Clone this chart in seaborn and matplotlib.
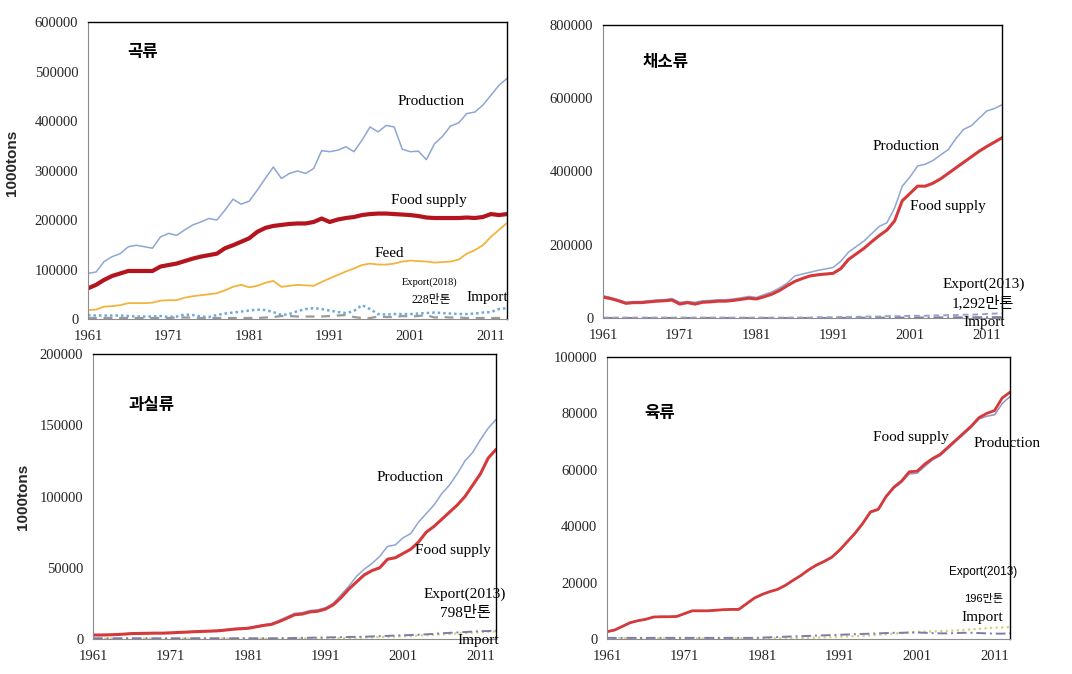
import matplotlib
matplotlib.use("Agg")
import matplotlib.pyplot as plt
import seaborn as sns
import numpy as np
import pandas as pd

sns.set_style("white")
plt.rcParams['font.family'] = ['Liberation Serif', 'Noto Sans CJK KR', 'DejaVu Sans']

years = list(range(1961, 2014))
xticks = [1961, 1971, 1981, 1991, 2001, 2011]

# ---- Cereals (1000 tons) ----
cereal_production = [92, 95, 116, 126, 132, 146, 149, 146, 143, 166, 173, 169, 180, 190, 196, 203, 200,
                     220, 242, 232, 238, 260, 284, 307, 284, 294, 299, 294, 304, 340, 338, 341, 348, 338,
                     361, 388, 378, 391, 388, 343, 338, 339, 322, 354, 369, 390, 396, 415, 418, 432, 452,
                     472, 486]
cereal_food = [62, 69, 79, 87, 92, 97, 97, 97, 97, 106, 109, 112, 117, 122, 126, 129, 132, 143, 149, 156,
               163, 176, 184, 188, 190, 192, 193, 193, 196, 203, 196, 201, 204, 206, 210, 212, 213, 213,
               212, 211, 210, 208, 205, 204, 204, 204, 204, 205, 204, 206, 212, 210, 212]
cereal_feed = [18, 19, 25, 26, 28, 32, 32, 32, 33, 37, 38, 38, 43, 46, 48, 50, 52, 58, 65, 69, 64, 67, 73,
               77, 65, 67, 69, 68, 67, 75, 82, 89, 96, 102, 109, 112, 110, 110, 112, 116, 118, 117, 116,
               114, 115, 116, 120, 132, 139, 149, 166, 180, 194]
cereal_import = [8, 7, 7, 7, 7, 6, 5, 5, 5, 6, 4, 5, 9, 8, 5, 4, 8, 11, 13, 15, 17, 19, 18, 14, 8, 10, 16,
                 20, 22, 20, 17, 14, 12, 16, 28, 20, 10, 9, 10, 10, 10, 11, 12, 13, 12, 11, 10, 10, 11, 13,
                 14, 20, 22]
cereal_export = [2, 2, 2, 2, 2, 2, 2, 2, 2, 2, 2, 3, 3, 3, 2, 2, 2, 2, 2, 2, 2, 2, 3, 4, 6, 6, 5, 5, 5, 5,
                 6, 7, 8, 4, 2, 2, 5, 4, 4, 6, 5, 6, 8, 3, 4, 3, 3, 2, 2, 2, 2, 2, 2]

# ---- Vegetables ----
veg_production = [61, 56, 50, 43, 45, 45, 47, 49, 50, 53, 43, 45, 43, 47, 48, 50, 50, 52, 55, 59, 56, 64,
                  71, 82, 95, 115, 120, 125, 130, 134, 138, 155, 180, 195, 210, 230, 250, 260, 300, 360,
                  385, 415, 420, 430, 445, 460, 490, 515, 525, 545, 565, 572, 582]
veg_food = [57, 53, 47, 40, 42, 42, 44, 46, 47, 49, 38, 42, 38, 43, 44, 46, 46, 48, 51, 54, 52, 58, 65,
            75, 88, 100, 108, 115, 118, 120, 122, 135, 160, 175, 190, 208, 225, 240, 265, 320, 340, 360,
            360, 368, 380, 395, 410, 425, 440, 455, 468, 480, 492]
veg_export = [1, 1, 1, 1, 1, 1, 1, 1, 1, 1, 1, 1, 1, 1, 1, 1, 1, 1, 1, 1, 1, 1, 1, 1, 1, 1, 1, 1, 2, 2,
              2, 3, 3, 3, 4, 4, 4, 5, 5, 5, 6, 6, 6, 7, 7, 8, 8, 9, 9, 10, 11, 12, 13]
veg_import = [0.2] * 30 + [0.3, 0.4, 0.5, 0.6, 0.7, 0.8, 0.9, 1.0, 1.0, 1.1, 1.2, 1.3, 1.4, 1.5, 1.6,
                           1.7, 1.8, 1.9, 2.0, 2.1, 2.2, 2.3, 2.4]

# ---- Fruits ----
fruit_production = [3.0, 3.0, 3.1, 3.3, 3.6, 4.0, 4.1, 4.2, 4.3, 4.3, 4.5, 4.8, 5.0, 5.3, 5.5, 5.7, 6.0,
                    6.5, 7.2, 7.6, 8.0, 9.0, 10.0, 10.8, 13.0, 15.5, 18.0, 18.5, 20.0, 20.5, 22.0, 25.0,
                    31.0, 37.0, 44.0, 49.0, 53.0, 58.0, 65.0, 66.0, 71.0, 74.0, 82.0, 88.0, 94.0, 102.0,
                    108.0, 116.0, 125.0, 131.0, 140.0, 148.0, 154.0]
fruit_food = [2.8, 2.8, 2.9, 3.1, 3.4, 3.8, 3.9, 4.0, 4.1, 4.1, 4.3, 4.6, 4.8, 5.1, 5.3, 5.5, 5.7, 6.2,
              6.8, 7.2, 7.5, 8.5, 9.5, 10.2, 12.2, 14.5, 17.0, 17.5, 19.0, 19.5, 21.0, 24.0, 29.0, 35.0,
              40.0, 45.0, 48.0, 50.0, 56.0, 57.0, 60.0, 63.0, 68.0, 75.0, 79.0, 84.0, 89.0, 94.0, 100.0,
              108.0, 116.0, 127.0, 133.0]
fruit_export = [0.5] * 25 + [0.6, 0.7, 0.8, 0.9, 1.0, 1.1, 1.2, 1.3, 1.4, 1.5, 1.6, 1.8, 2.0, 2.2, 2.4,
                             2.6, 2.8, 3.0, 3.3, 3.6, 4.0, 4.3, 4.6, 4.9, 5.2, 5.5, 5.6, 5.8]
fruit_import = [0.3] * 30 + [0.4, 0.5, 0.6, 0.7, 0.9, 1.0, 1.2, 1.3, 1.5, 1.7, 1.9, 2.1, 2.4, 2.7, 3.0,
                             3.3, 3.6, 3.9, 4.2, 4.5, 4.8, 5.1, 5.4]

# ---- Meat ----
meat_food = [2.6, 3.2, 4.5, 5.8, 6.5, 7.0, 7.8, 7.9, 7.9, 8.0, 9.0, 10.0, 10.0, 10.0, 10.2, 10.4, 10.5,
             10.5, 12.5, 14.5, 15.8, 16.8, 17.6, 19.0, 20.8, 22.5, 24.5, 26.2, 27.5, 29.0, 31.5, 34.5,
             37.5, 41.0, 45.1, 46.0, 50.5, 53.8, 56.0, 59.3, 59.5, 62.0, 64.0, 65.5, 68.0, 70.5, 73.0,
             75.5, 78.5, 80.0, 81.0, 85.5, 87.5]
meat_production = [2.5, 3.1, 4.4, 5.7, 6.4, 6.9, 7.7, 7.8, 7.8, 7.9, 8.9, 9.9, 9.9, 9.9, 10.1, 10.3, 10.4,
                   10.4, 12.4, 14.4, 15.7, 16.7, 17.5, 18.9, 20.7, 22.4, 24.4, 26.0, 27.3, 28.8, 31.3,
                   34.3, 37.3, 40.8, 44.8, 45.7, 50.2, 53.4, 55.5, 58.5, 58.8, 61.2, 63.5, 65.0, 67.5,
                   70.0, 72.5, 75.0, 78.0, 79.0, 79.5, 83.5, 86.0]
meat_export = [0.4] * 20 + [0.5, 0.6, 0.7, 0.8, 0.9, 1.0, 1.1, 1.2, 1.3, 1.4, 1.5, 1.6, 1.7, 1.8, 1.9,
                            2.0, 2.1, 2.2, 2.2, 2.3, 2.3, 2.2, 2.1, 2.0, 2.0, 2.1, 2.2, 2.2, 2.1, 2.0,
                            1.9, 1.9, 2.0]
meat_import = [0.2] * 25 + [0.3, 0.4, 0.5, 0.6, 0.7, 0.8, 0.9, 1.0, 1.1, 1.3, 1.5, 1.7, 1.9, 2.1, 2.3,
                            2.5, 2.6, 2.7, 2.8, 2.9, 3.0, 3.2, 3.4, 3.6, 3.8, 4.0, 4.1, 4.2]

K = 1000.0
PROD_C = '#8EA6D2'
FOOD_DARK = '#B3141E'
FOOD_RED = '#D4393B'
FEED_C = '#F2B43A'


def line(ax, vals, color, lw, ls='-'):
    sns.lineplot(x=years, y=np.array(vals, dtype=float) * K, ax=ax, color=color,
                 linewidth=lw, linestyle=ls, legend=False)


def style(ax, ymax, ystep):
    ax.set_xlim(1961, 2013)
    ax.set_ylim(0, ymax)
    ax.set_xticks(xticks)
    ax.set_xticklabels([str(t) for t in xticks])
    ax.set_yticks(np.arange(0, ymax + 1, ystep))
    ax.set_yticklabels([str(int(v)) for v in np.arange(0, ymax + 1, ystep)])
    ax.tick_params(axis='x', length=0, pad=8, labelsize=10.5)
    ax.tick_params(axis='y', length=0, pad=7, labelsize=10.5)
    for s in ['top', 'right']:
        ax.spines[s].set_color('black')
        ax.spines[s].set_linewidth(1.0)
    for s in ['left', 'bottom']:
        ax.spines[s].set_color('#8c8c8c')
        ax.spines[s].set_linewidth(0.8)
    ax.set_xlabel('')
    ax.set_ylabel('')


fig = plt.figure(figsize=(10.72, 6.74), dpi=100)
W, H = 1072.0, 674.0


def mk(l, r, t, b):
    return fig.add_axes([l / W, 1 - b / H, (r - l) / W, (b - t) / H])


ax1 = mk(88, 507, 22, 319)
ax2 = mk(603, 1002, 25, 318)
ax3 = mk(93, 496, 354, 639)
ax4 = mk(607, 1010, 357, 639)

KR = ['Noto Sans CJK KR', 'DejaVu Sans']
MIX = ['Liberation Serif', 'Noto Sans CJK KR']


def t(ax, x, y, s, size=11, fam=None, weight='normal'):
    ax.text(x, y, s, transform=ax.transAxes, ha='center', va='center', fontsize=size,
            family=fam if fam else MIX, fontweight=weight, color='black')


# Cereals
line(ax1, cereal_export, '#9a9a9a', 1.6, (0, (4, 3)))
line(ax1, cereal_import, '#6FA8DC', 1.8, (0, (1, 1.2)))
line(ax1, cereal_feed, FEED_C, 1.3)
line(ax1, cereal_production, PROD_C, 1.1)
line(ax1, cereal_food, FOOD_DARK, 3.0)
style(ax1, 600000, 100000)
t(ax1, 0.13, 0.90, '곡류', 12, KR, 'bold')
t(ax1, 0.82, 0.731, 'Production', 11)
t(ax1, 0.814, 0.40, 'Food supply', 11)
t(ax1, 0.718, 0.222, 'Feed', 11)
t(ax1, 0.816, 0.125, 'Export(2018)', 7.5)
t(ax1, 0.82, 0.064, '228만톤', 8.5)
t(ax1, 0.952, 0.071, 'Import', 11)
ax1.set_ylabel('1000tons', fontsize=11, fontweight='bold', family=['Liberation Sans'])
ax1.yaxis.set_label_coords(-0.165, 0.525)

# Vegetables
line(ax2, veg_import, '#7C7CA8', 1.4, (0, (5, 2, 1, 2)))
line(ax2, veg_export, '#9CA0C8', 1.4, (0, (3, 2)))
line(ax2, veg_production, PROD_C, 1.1)
line(ax2, veg_food, FOOD_RED, 2.2)
style(ax2, 800000, 200000)
t(ax2, 0.158, 0.874, '채소류', 12, KR, 'bold')
t(ax2, 0.759, 0.587, 'Production', 11)
t(ax2, 0.865, 0.379, 'Food supply', 11)
t(ax2, 0.955, 0.116, 'Export(2013)', 11)
t(ax2, 0.952, 0.051, '1,292만톤', 11)
t(ax2, 0.955, -0.014, 'Import', 11)

# Fruits
line(ax3, fruit_import, '#D8CF7A', 1.6, (0, (1, 1.5)))
line(ax3, fruit_export, '#7C7CA8', 1.4, (0, (5, 2, 1, 2)))
line(ax3, fruit_production, PROD_C, 1.1)
line(ax3, fruit_food, FOOD_RED, 2.2)
style(ax3, 200000, 50000)
t(ax3, 0.146, 0.821, '과실류', 12, KR, 'bold')
t(ax3, 0.787, 0.568, 'Production', 11)
t(ax3, 0.893, 0.309, 'Food supply', 11)
t(ax3, 0.923, 0.158, 'Export(2013)', 11)
t(ax3, 0.923, 0.091, '798만톤', 11)
t(ax3, 0.955, -0.007, 'Import', 11)
ax3.set_ylabel('1000tons', fontsize=11, fontweight='bold', family=['Liberation Sans'])
ax3.yaxis.set_label_coords(-0.156, 0.498)

# Meat
line(ax4, meat_import, '#D8CF7A', 1.6, (0, (1, 1.5)))
line(ax4, meat_export, '#7C7CA8', 1.4, (0, (5, 2, 1, 2)))
line(ax4, meat_production, '#9C8FB8', 1.1)
line(ax4, meat_food, FOOD_RED, 2.0)
style(ax4, 100000, 20000)
t(ax4, 0.132, 0.801, '육류', 12, KR, 'bold')
t(ax4, 0.754, 0.713, 'Food supply', 11)
t(ax4, 0.994, 0.695, 'Production', 11)
t(ax4, 0.933, 0.238, 'Export(2013)', 8.5, ['Liberation Sans', 'Noto Sans CJK KR'])
t(ax4, 0.935, 0.142, '196만톤', 8, ['Liberation Sans', 'Noto Sans CJK KR'])
t(ax4, 0.930, 0.078, 'Import', 11)

fig.savefig('out.png', dpi=100, facecolor='white')
